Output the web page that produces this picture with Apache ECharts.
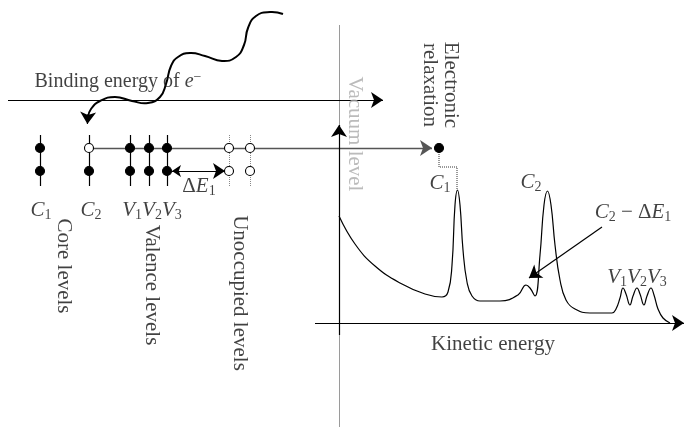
<!DOCTYPE html>
<html><head><meta charset="utf-8">
<script src="https://cdn.jsdelivr.net/npm/echarts@6/dist/echarts.min.js"></script>
<style>html,body{margin:0;padding:0;background:#fff}#c{width:685px;height:427px}</style>
</head><body><div id="c"></div>
<script>
// ---- data (diagram units = picture pixels) ----
const levelNames = ['C1', 'C2', 'V1', 'V2', 'V3'];
const levelX = [40, 89, 130, 149, 167];
const upperFilled = [true, false, true, true, true];
const lowerFilled = [true, true, true, true, true];
const unoccupiedX = [229, 250];
const upperY = 148;
const lowerY = 171;
// photoelectron spectrum (kinetic energy, intensity drawn downward)
const specX = [339, 355, 375, 400, 425, 442, 448, 452, 455, 457.5, 460, 463, 467, 472, 480, 500, 518, 526, 530, 535, 540, 544, 547.5, 551, 555, 560, 566, 575, 590, 612, 616, 620, 623, 626, 630, 633, 637, 640, 644, 647, 651, 654, 658, 663, 670];
const specY = [216, 244, 266, 283, 294, 297, 292, 265, 205, 190, 205, 250, 282, 296, 301, 301, 295, 285, 288, 296, 255, 205, 191, 205, 245, 280, 300, 309, 313, 313, 309, 298, 288, 294, 305, 296, 288, 294, 305, 296, 288, 295, 309, 318, 323];
// wavy photon
const waveX = [283, 270, 256, 248, 244, 236, 222, 205, 190, 178, 171, 166, 160, 148, 132, 115, 100, 91, 88];
const waveY = [14, 12, 16, 28, 45, 57, 61, 56, 53, 57, 66, 84, 97, 103, 101, 97, 101, 109, 117];

const serif = '"Liberation Serif", "DejaVu Serif", serif';
const ink = '#111';
const rich = {
  r: {fontFamily: serif, fontSize: 21, color: ink},
  b: {fontFamily: serif, fontSize: 20, color: ink},
  bi: {fontFamily: serif, fontSize: 20, fontStyle: 'italic', color: ink},
  i: {fontFamily: serif, fontSize: 21, fontStyle: 'italic', color: ink},
  s: {fontFamily: serif, fontSize: 14, color: ink, padding: [10, 0, 0, 0]},
  p: {fontFamily: serif, fontSize: 14, color: ink, padding: [0, 0, 10, 0]},
  g: {fontFamily: serif, fontSize: 21, color: '#aaa'}
};
function lbl(x, y, text, rotate) {
  return {value: [x, y], label: {show: true, position: 'inside', formatter: text, rotate: rotate || 0, rich: rich, align: 'center', verticalAlign: 'middle'}};
}
function sym(n) { return '{i|' + n[0] + '}{s|' + n.slice(1) + '}'; }

const dots = [];
levelX.forEach((x, k) => {
  dots.push({value: [x, upperY], itemStyle: {color: upperFilled[k] ? '#000' : '#fff'}});
  dots.push({value: [x, lowerY], itemStyle: {color: lowerFilled[k] ? '#000' : '#fff'}});
});
unoccupiedX.forEach(x => {
  dots.push({value: [x, upperY], itemStyle: {color: '#fff'}});
  dots.push({value: [x, lowerY], itemStyle: {color: '#fff'}});
});

const arrowLines = [
  {coords: [[8, 100], [383, 100]]},
  {coords: [[315, 323], [684, 323]]},
  {coords: [[339, 335], [339, 125]]},
  {coords: [[602, 227], [529, 278]]},
  {coords: [[88, 114], [87.4, 124]]}
];

const chart = echarts.init(document.getElementById('c'));
chart.setOption({
  animation: false,
  backgroundColor: '#fff',
  grid: {left: 0, right: 0, top: 0, bottom: 0},
  xAxis: {type: 'value', min: 0, max: 685, show: false},
  yAxis: {type: 'value', min: 0, max: 427, inverse: true, show: false},
  series: [
    {type: 'lines', coordinateSystem: 'cartesian2d', z: 1, silent: true,
     lineStyle: {color: '#9a9a9a', width: 1, opacity: 1},
     data: [{coords: [[339, 25], [339, 427]]}]},
    {type: 'lines', coordinateSystem: 'cartesian2d', z: 2, silent: true,
     lineStyle: {color: '#000', width: 1.2, opacity: 1},
     data: levelX.map(x => ({coords: [[x, 135], [x, 186]]}))},
    {type: 'lines', coordinateSystem: 'cartesian2d', z: 2, silent: true,
     lineStyle: {color: '#888', width: 1, type: 'dotted', opacity: 1},
     data: unoccupiedX.map(x => ({coords: [[x, 135], [x, 187]]}))},
    {type: 'lines', coordinateSystem: 'cartesian2d', z: 2, silent: true,
     symbol: ['none', 'arrow'], symbolSize: [9, 12],
     lineStyle: {color: '#555', width: 1.3, opacity: 1},
     data: [{coords: [[89, upperY], [432, upperY]]}]},
    {type: 'lines', coordinateSystem: 'cartesian2d', z: 3, silent: true,
     symbol: ['none', 'arrow'], symbolSize: [9, 12],
     lineStyle: {color: '#000', width: 1.2, opacity: 1},
     data: arrowLines},
    {type: 'lines', coordinateSystem: 'cartesian2d', z: 3, silent: true,
     symbol: ['arrow', 'arrow'], symbolSize: [9, 12],
     lineStyle: {color: '#000', width: 1.2, opacity: 1},
     data: [{coords: [[172, lowerY], [225, lowerY]]}]},
    {type: 'lines', coordinateSystem: 'cartesian2d', polyline: true, z: 2, silent: true,
     lineStyle: {color: '#333', width: 1, type: 'dotted', opacity: 1},
     data: [{coords: [[439, 148], [439, 167], [457, 167], [457, 190]]}]},
    // wavy photon drawn as one smooth polyline through its points
    {type: 'custom', z: 4, silent: true,
     data: waveX.map((x, k) => [x, waveY[k]]),
     encode: {x: 0, y: 1},
     renderItem: function (params, api) {
       if (params.dataIndex !== 0) return null;
       const pts = waveX.map((x, k) => api.coord([x, waveY[k]]));
       return {type: 'polyline', shape: {points: pts, smooth: 0.5},
               style: {stroke: '#000', lineWidth: 2, fill: null}};
     }},
    {type: 'line', smooth: 0.45, symbol: 'none', z: 3, silent: true,
     lineStyle: {color: '#000', width: 1.2},
     data: specX.map((x, k) => [x, specY[k]])},
    {type: 'scatter', symbol: 'circle', symbolSize: 9, z: 5, silent: true,
     itemStyle: {borderColor: '#000', borderWidth: 1.1, opacity: 1},
     data: dots.concat([{value: [439, 148], itemStyle: {color: '#000'}}])},
    {type: 'scatter', symbolSize: 0, z: 6, silent: true,
     data: [
       lbl(118, 82, '{b|Binding energy of }{bi|e}{p|−}'),
       lbl(41, 210, sym('C1')),
       lbl(91, 210, sym('C2')),
       lbl(152, 210, sym('V1') + sym('V2') + sym('V3')),
       lbl(199, 186, '{r|Δ}' + sym('E1')),
       lbl(64, 266, '{r|Core levels}', -90),
       lbl(152, 285, '{r|Valence levels}', -90),
       lbl(240, 293, '{r|Unoccupied levels}', -90),
       lbl(355, 134, '{g|Vacuum level}', -90),
       lbl(440, 85, '{r|Electronic}\n{r|relaxation}', -90),
       lbl(440, 183, sym('C1')),
       lbl(531, 182, sym('C2')),
       lbl(633, 212, sym('C2') + '{r| − Δ}' + sym('E1')),
       lbl(637, 277, sym('V1') + sym('V2') + sym('V3')),
       lbl(493, 344, '{r|Kinetic energy}')
     ]}
  ]
});
</script></body></html>
